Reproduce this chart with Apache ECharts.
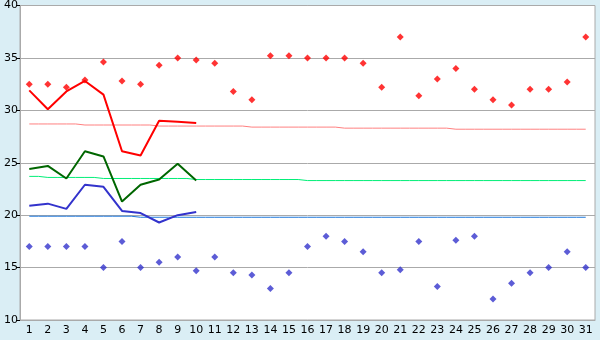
<!DOCTYPE html>
<html>
<head>
<meta charset="utf-8">
<script src="https://cdn.jsdelivr.net/npm/echarts@6/dist/echarts.min.js"></script>
<style>
  html, body { margin: 0; padding: 0; background: #daeef5; }
  #chart { width: 600px; height: 340px; }
</style>
</head>
<body>
<div id="chart"></div>
<script>
// day numbers along the bottom
var days = [];
for (var d = 1; d <= 31; d++) days.push(String(d));

// daily maxima / minima (diamonds)
var maxTemps = [32.5, 32.5, 32.2, 32.9, 34.6, 32.8, 32.5, 34.3, 35.0, 34.8,
                34.5, 31.8, 31.0, 35.2, 35.2, 35.0, 35.0, 35.0, 34.5, 32.2,
                37.0, 31.4, 33.0, 34.0, 32.0, 31.0, 30.5, 32.0, 32.0, 32.7, 37.0];
var minTemps = [17.0, 17.0, 17.0, 17.0, 15.0, 17.5, 15.0, 15.5, 16.0, 14.7,
                16.0, 14.5, 14.3, 13.0, 14.5, 17.0, 18.0, 17.5, 16.5, 14.5,
                14.8, 17.5, 13.2, 17.6, 18.0, 12.0, 13.5, 14.5, 15.0, 16.5, 15.0];

// running lines, first ten days only
var maxLine = [31.9, 30.1, 31.8, 32.8, 31.5, 26.1, 25.7, 29.0, 28.9, 28.8];
var avgLine = [24.4, 24.7, 23.5, 26.1, 25.6, 21.3, 22.9, 23.4, 24.9, 23.3];
var minLine = [20.9, 21.1, 20.6, 22.9, 22.7, 20.4, 20.2, 19.3, 20.0, 20.3];

// normals
var normalMax = [28.7, 28.7, 28.7, 28.6, 28.6, 28.6, 28.6, 28.5, 28.5, 28.5,
                 28.5, 28.5, 28.4, 28.4, 28.4, 28.4, 28.4, 28.3, 28.3, 28.3,
                 28.3, 28.3, 28.3, 28.2, 28.2, 28.2, 28.2, 28.2, 28.2, 28.2, 28.2];
var normalAvg = [23.7, 23.6, 23.6, 23.6, 23.5, 23.5, 23.5, 23.5, 23.5, 23.4,
                 23.4, 23.4, 23.4, 23.4, 23.4, 23.3, 23.3, 23.3, 23.3, 23.3,
                 23.3, 23.3, 23.3, 23.3, 23.3, 23.3, 23.3, 23.3, 23.3, 23.3, 23.3];
var normalMin = [19.9, 19.9, 19.9, 19.9, 19.9, 19.9, 19.8, 19.8, 19.8, 19.8,
                 19.8, 19.8, 19.8, 19.8, 19.8, 19.8, 19.8, 19.8, 19.8, 19.8,
                 19.8, 19.8, 19.8, 19.8, 19.8, 19.8, 19.8, 19.8, 19.8, 19.8, 19.8];

var yTicks = { min: 10, max: 40, interval: 5 };

var myChart = echarts.init(document.getElementById('chart'));

function normal(name, data, color) {
    return {
        name: name, type: 'line', data: data, step: 'middle',
        symbol: 'none', silent: true, z: 2,
        lineStyle: { color: color, width: 1 }
    };
}

function running(name, data, color) {
    return {
        name: name, type: 'line', data: data,
        symbol: 'none', z: 3,
        lineStyle: { color: color, width: 2 }
    };
}

function dots(name, data, color) {
    return {
        name: name, type: 'scatter', data: data,
        symbol: 'diamond', symbolSize: 7, z: 4,
        itemStyle: { color: color }
    };
}

var option = {
    animation: false,
    backgroundColor: '#daeef5',
    textStyle: { fontFamily: 'DejaVu Sans' },
    grid: {
        left: 20, right: 5, top: 5, bottom: 20,
        show: true, backgroundColor: '#ffffff', borderColor: '#aaaaaa', borderWidth: 1
    },
    xAxis: {
        type: 'category',
        data: days,
        boundaryGap: true,
        axisLine: { lineStyle: { color: '#aaaaaa' } },
        axisTick: { alignWithLabel: true, length: 4, lineStyle: { color: '#000000' } },
        axisLabel: { color: '#000000', fontSize: 11, margin: 5, interval: 0 }
    },
    yAxis: {
        type: 'value',
        min: yTicks.min, max: yTicks.max, interval: yTicks.interval,
        axisLine: { show: true, lineStyle: { color: '#aaaaaa' } },
        axisTick: { show: true, length: 4, lineStyle: { color: '#000000' } },
        axisLabel: { color: '#000000', fontSize: 11, margin: 2 },
        splitLine: { lineStyle: { color: '#aaaaaa', width: 1 } }
    },
    series: [
        normal('Normal max', normalMax, '#ff8080'),
        normal('Normal avg', normalAvg, '#00ee77'),
        normal('Normal min', normalMin, '#1e78dc'),
        running('Max', maxLine, '#ff0000'),
        running('Avg', avgLine, '#006600'),
        running('Min', minLine, '#3333cc'),
        dots('Daily max', maxTemps, '#ff0000'),
        dots('Daily min', minTemps, '#3333cc')
    ]
};

myChart.setOption(option);
</script>
</body>
</html>
